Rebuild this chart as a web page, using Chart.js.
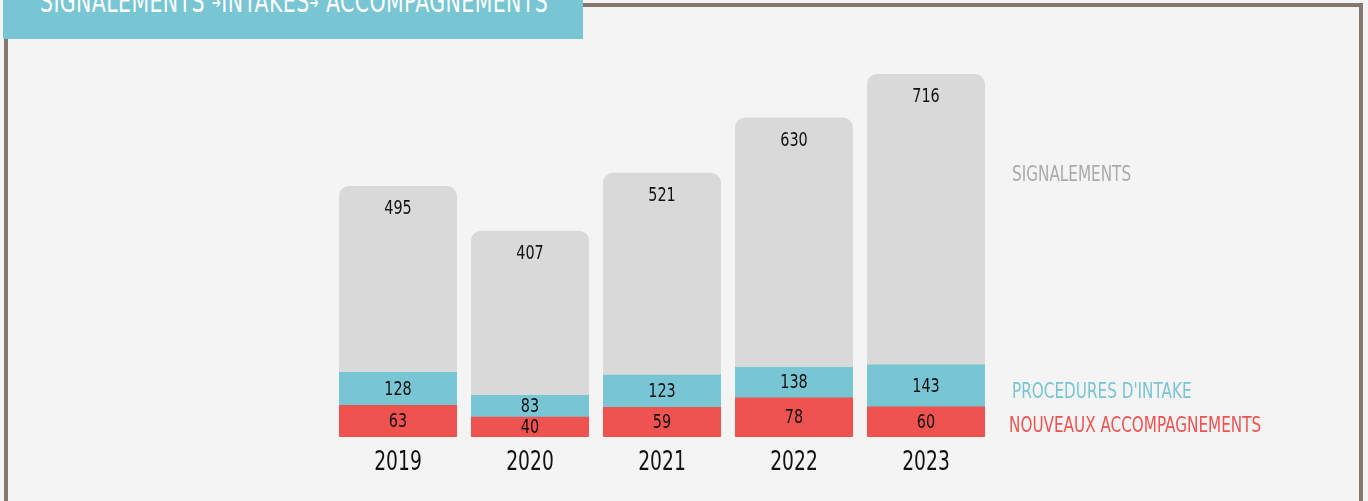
<!DOCTYPE html>
<html><head><meta charset="utf-8">
<script src="https://cdn.jsdelivr.net/npm/chart.js@4/dist/chart.umd.min.js"></script>
<style>
html,body{margin:0;padding:0;background:#f4f4f4;width:1368px;height:501px;overflow:hidden;font-family:"DejaVu Sans Condensed","DejaVu Sans",sans-serif;}
#frame{position:absolute;left:4px;top:3px;width:1351px;height:600px;border:4px solid #857670;box-sizing:content-box;}
#titlebox{position:absolute;left:3px;top:0;width:580px;height:39px;background:#78c5d4;overflow:hidden;}
#title{position:absolute;left:37px;top:-16px;color:#fff;font-size:30px;white-space:nowrap;letter-spacing:0.5px;transform:scaleX(0.76);transform-origin:0 0;font-weight:300;}
#title .ar{font-size:16px;vertical-align:4px;}
.lab{position:absolute;font-size:22px;white-space:nowrap;transform:scaleX(0.77);transform-origin:0 0;}
#wrap{position:absolute;left:0;top:0;width:1368px;height:501px;}
</style></head>
<body>
<div id="frame"></div>
<div id="wrap"><canvas id="c" width="1368" height="501"></canvas></div>
<div id="titlebox"><div id="title">SIGNALEMENTS <span class="ar">➔</span>INTAKES<span class="ar">➔</span> ACCOMPAGNEMENTS</div></div>
<div class="lab" style="left:1012px;top:161px;color:#aaaaaa">SIGNALEMENTS</div>
<div class="lab" style="left:1012px;top:378px;color:#78c5d4">PROCEDURES D'INTAKE</div>
<div class="lab" style="left:1009px;top:412px;color:#f0524f">NOUVEAUX ACCOMPAGNEMENTS</div>
<script>
const years = ["2019","2020","2021","2022","2023"];
const signalements = [495,407,521,630,716];
const intakes = [128,83,123,138,143];
const accompagnements = [63,40,59,78,60];

const FONT = '"DejaVu Sans Condensed","DejaVu Sans",sans-serif';

function narrowText(ctx, t, x, y, sx){
  ctx.save();
  ctx.translate(x, y);
  ctx.scale(sx, 1);
  ctx.fillText(t, 0, 0);
  ctx.restore();
}

const labelPlugin = {
  id:'labels',
  afterDatasetsDraw(chart){
    const ctx = chart.ctx;
    ctx.save();
    ctx.fillStyle = '#111';
    ctx.textAlign = 'center';
    ctx.textBaseline = 'middle';
    ctx.font = '20px ' + FONT;
    const m0 = chart.getDatasetMeta(0).data;
    const m1 = chart.getDatasetMeta(1).data;
    const m2 = chart.getDatasetMeta(2).data;
    for (let i=0;i<years.length;i++){
      const g = m0[i], b = m1[i], r = m2[i];
      narrowText(ctx, String(signalements[i]), g.x, g.y + 23, 0.8);
      narrowText(ctx, String(intakes[i]), b.x, (b.y + r.y)/2 + 1, 0.8);
      narrowText(ctx, String(accompagnements[i]), r.x, (r.y + r.base)/2 + 1, 0.8);
    }
    ctx.font = '27px ' + FONT;
    const xs = chart.scales.x;
    for (let i=0;i<years.length;i++){
      narrowText(ctx, years[i], xs.getPixelForValue(i), 463, 0.77);
    }
    ctx.restore();
  }
};

new Chart(document.getElementById('c'), {
  type:'bar',
  data:{
    labels: years,
    datasets:[
      {data: signalements, backgroundColor:'#d9d9d9', borderRadius:{topLeft:10,topRight:10,bottomLeft:0,bottomRight:0}, borderSkipped:false, grouped:false, order:3},
      {data: intakes, backgroundColor:'#78c5d4', grouped:false, order:2},
      {data: accompagnements, backgroundColor:'#f0524f', grouped:false, order:1}
    ]
  },
  options:{
    responsive:false,
    animation:false,
    layout:{padding:{left:332,right:376,top:74,bottom:24}},
    plugins:{legend:{display:false},tooltip:{enabled:false}},
    datasets:{bar:{categoryPercentage:1,barPercentage:0.894}},
    scales:{
      x:{
        grid:{display:false,drawTicks:false},
        border:{display:false},
        ticks:{display:false},
        afterFit(s){ s.height = 40; }
      },
      y:{display:false,min:0,max:716}
    }
  },
  plugins:[labelPlugin]
});
</script>
</body></html>
